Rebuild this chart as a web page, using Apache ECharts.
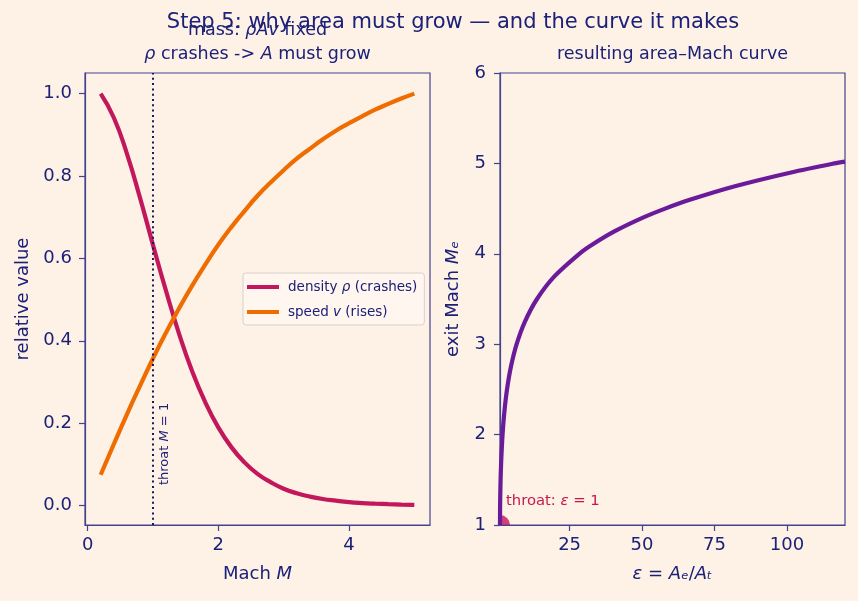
<!DOCTYPE html>
<html><head><meta charset="utf-8">
<script src="https://cdn.jsdelivr.net/npm/echarts@6/dist/echarts.min.js"></script>
<style>html,body{margin:0;padding:0;background:#fef1e6;} #c{width:858px;height:601px;}</style>
</head><body><div id="c"></div>
<script>
// ---- data ----
const machGrid   = [0.2,0.4,0.6,0.8,1.0,1.2,1.4,1.6,1.8,2.0,2.2,2.4,2.6,2.8,3.0,3.2,3.4,3.6,3.8,4.0,4.2,4.4,4.6,4.8,5.0];
const densityRel = [1.000,0.942,0.855,0.748,0.633,0.521,0.417,0.326,0.251,0.190,0.142,0.105,0.077,0.057,0.041,0.030,0.022,0.016,0.012,0.0086,0.0063,0.0047,0.0035,0.0026,0.0019];
const speedRel   = [0.075,0.149,0.221,0.290,0.357,0.420,0.479,0.534,0.585,0.633,0.676,0.715,0.752,0.784,0.814,0.842,0.866,0.889,0.910,0.928,0.945,0.961,0.975,0.988,1.000];
const areaRatio  = [1.00,1.009,1.034,1.075,1.132,1.205,1.296,1.471,1.884,2.504,3.420,4.767,6.735,9.603,13.76,19.76,28.36,32.75,40.61,50.30,57.96,66.74,82.34,101.4,116.3,120];
const exitMach   = [1.0,1.1,1.2,1.3,1.4,1.5,1.6,1.75,2.0,2.25,2.5,2.75,3.0,3.25,3.5,3.75,4.0,4.1,4.25,4.4,4.5,4.6,4.75,4.9,5.0,5.02];
const throatMach = 1;
const throatPoint = [1, 1];
const leftXTicks  = [0, 2, 4];
const leftYTicks  = [0, 0.2, 0.4, 0.6, 0.8, 1.0];
const rightXTicks = [25, 50, 75, 100];
const seriesNames = ['density ρ (crashes)', 'speed v (rises)'];

// ---- styling ----
const FONT = 'DejaVu Sans';
const INK = '#1c2178';
const FRAME = '#44448e';
const C_RHO = '#c2185b', C_V = '#ef6c00', C_M = '#6a1b9a';

const zip = (xs, ys) => xs.map((x, i) => [x, ys[i]]);

function axisCommon() {
  return {
    axisLine: {show: true, onZero: false, lineStyle: {color: FRAME, width: 1.2}},
    axisTick: {show: true, length: 6, lineStyle: {color: FRAME, width: 1.2}},
    splitLine: {show: false},
    axisLabel: {color: INK, fontFamily: FONT, fontSize: 18},
    nameTextStyle: {color: INK, fontFamily: FONT, fontSize: 18,
      rich: {i: {fontStyle: 'italic', fontFamily: FONT, fontSize: 18, color: INK}}}
  };
}

const chart = echarts.init(document.getElementById('c'), null, {renderer: 'canvas'});
const option = {
  backgroundColor: '#fef1e6',
  animation: false,
  title: [
    {text: 'Step 5: why area must grow — and the curve it makes', left: 453, top: 12, textAlign: 'center', padding: 0,
     textStyle: {color: INK, fontFamily: FONT, fontSize: 21, fontWeight: 'normal'}},
    {text: 'mass: {i|ρAv} fixed\n{i|ρ} crashes -> {i|A} must grow', left: 257.5, top: 18, textAlign: 'center', padding: 0,
     textStyle: {color: INK, fontFamily: FONT, fontSize: 17.5, fontWeight: 'normal', lineHeight: 24,
       rich: {i: {fontStyle: 'italic', fontFamily: FONT, fontSize: 17.5, color: INK, lineHeight: 24}}}},
    {text: 'resulting area–Mach curve', left: 672.5, top: 42, textAlign: 'center', padding: 0,
     textStyle: {color: INK, fontFamily: FONT, fontSize: 17.5, fontWeight: 'normal', lineHeight: 24}}
  ],
  grid: [
    {left: 85, top: 73, width: 345, height: 452, show: true, borderColor: FRAME, borderWidth: 1.2, backgroundColor: 'transparent'},
    {left: 500, top: 73, width: 345, height: 452, show: true, borderColor: FRAME, borderWidth: 1.2, backgroundColor: 'transparent'}
  ],
  legend: {
    data: seriesNames, orient: 'vertical', left: 243, top: 273,
    padding: [7, 7, 6, 4], itemGap: 11, itemWidth: 32, itemHeight: 4, icon: 'rect',
    backgroundColor: 'rgba(255,247,240,0.85)', borderColor: '#d9d1ca', borderWidth: 1, borderRadius: 3,
    formatter: n => n === seriesNames[0] ? 'density {i|ρ} (crashes)' : 'speed {i|v} (rises)',
    textStyle: {color: INK, fontFamily: FONT, fontSize: 13.5, padding: [0, 0, 0, 4],
      rich: {i: {fontStyle: 'italic', fontFamily: FONT, fontSize: 13.5, color: INK}}}
  },
  xAxis: [
    Object.assign(axisCommon(), {type: 'value', gridIndex: 0, min: -0.04, max: 5.24,
      name: 'Mach {i|M}', nameLocation: 'middle', nameGap: 40,
      axisTick: {show: true, length: 6, customValues: leftXTicks, lineStyle: {color: FRAME, width: 1.2}},
      axisLabel: {color: INK, fontFamily: FONT, fontSize: 18, margin: 11, customValues: leftXTicks, formatter: v => String(v)}}),
    Object.assign(axisCommon(), {type: 'value', gridIndex: 1, min: 1, max: 120,
      name: '{i|ε} = {i|A}{i|ₑ}/{i|A}{i|ₜ}', nameLocation: 'middle', nameGap: 40,
      axisTick: {show: true, length: 6, customValues: rightXTicks, lineStyle: {color: FRAME, width: 1.2}},
      axisLabel: {color: INK, fontFamily: FONT, fontSize: 18, margin: 11, customValues: rightXTicks, formatter: v => String(v)}})
  ],
  yAxis: [
    Object.assign(axisCommon(), {type: 'value', gridIndex: 0, min: -0.047, max: 1.05,
      name: 'relative value', nameLocation: 'middle', nameGap: 53, nameRotate: 90,
      axisTick: {show: true, length: 6, customValues: leftYTicks, lineStyle: {color: FRAME, width: 1.2}},
      axisLabel: {color: INK, fontFamily: FONT, fontSize: 18, margin: 13, customValues: leftYTicks, formatter: v => v.toFixed(1)}}),
    Object.assign(axisCommon(), {type: 'value', gridIndex: 1, min: 1, max: 6, interval: 1,
      name: 'exit Mach {i|M}{s|ₑ}', nameLocation: 'middle', nameGap: 38, nameRotate: 90,
      nameTextStyle: {color: INK, fontFamily: FONT, fontSize: 18,
        rich: {i: {fontStyle: 'italic', fontFamily: FONT, fontSize: 18, color: INK}, s: {fontStyle: 'italic', fontFamily: FONT, fontSize: 18, color: INK}}},
      axisLabel: {color: INK, fontFamily: FONT, fontSize: 18, margin: 14}})
  ],
  series: [
    {name: seriesNames[0], type: 'line', xAxisIndex: 0, yAxisIndex: 0, data: zip(machGrid, densityRel),
     showSymbol: false, smooth: 0.5, lineStyle: {color: C_RHO, width: 4.2}, itemStyle: {color: C_RHO}, z: 3,
     markLine: {silent: true, symbol: 'none', label: {show: false}, animation: false,
       lineStyle: {color: '#1a1a5e', width: 2, type: [2, 3.3]}, data: [{xAxis: throatMach}]}},
    {name: seriesNames[1], type: 'line', xAxisIndex: 0, yAxisIndex: 0, data: zip(machGrid, speedRel),
     showSymbol: false, smooth: 0.5, lineStyle: {color: C_V, width: 4.2}, itemStyle: {color: C_V}, z: 4},
    {name: 'area-Mach', type: 'line', xAxisIndex: 1, yAxisIndex: 1, data: zip(areaRatio, exitMach),
     showSymbol: false, smooth: 0.3, lineStyle: {color: C_M, width: 4.2}, itemStyle: {color: C_M}, z: 3},
    {name: 'throat', type: 'scatter', xAxisIndex: 1, yAxisIndex: 1, data: [throatPoint],
     symbol: 'path://M0,0 L0,-1 A1,1 0 0,1 1,0 Z', symbolSize: 10, symbolOffset: [5, -5], symbolKeepAspect: true,
     itemStyle: {color: '#c2185b'}, z: 1, silent: true}
  ]
};
chart.setOption(option);

const pThroat = chart.convertToPixel({xAxisIndex: 0, yAxisIndex: 0}, [throatMach, 0.05]);
const pDot = chart.convertToPixel({xAxisIndex: 1, yAxisIndex: 1}, throatPoint);
chart.setOption({
  graphic: [
    {type: 'text', x: pThroat[0] + 5, y: pThroat[1], rotation: Math.PI / 2, z: 10,
     style: {text: 'throat {i|M} = 1', fill: INK, font: '13px "DejaVu Sans"', align: 'left', verticalAlign: 'top',
       rich: {i: {fontStyle: 'italic', fontSize: 13, fontFamily: FONT, fill: INK}}}},
    {type: 'text', x: pDot[0] + 6, y: pDot[1] - 16, z: 10,
     style: {text: 'throat: {i|ε} = 1', fill: '#c8174f', font: '14.8px "DejaVu Sans"', align: 'left', verticalAlign: 'bottom',
       rich: {i: {fontStyle: 'italic', fontSize: 14.8, fontFamily: FONT, fill: '#c8174f'}}}}
  ]
});
</script></body></html>
